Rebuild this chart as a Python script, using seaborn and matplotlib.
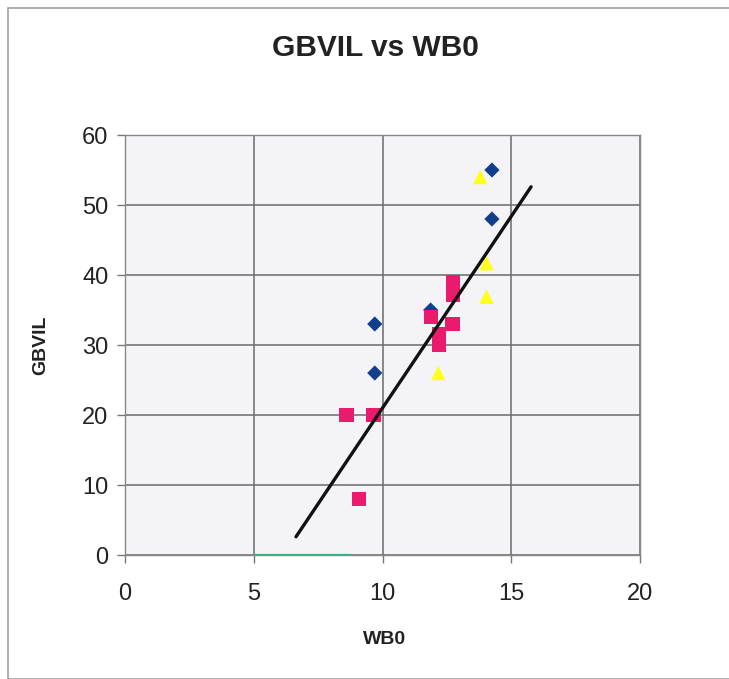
import matplotlib
matplotlib.use("Agg")
import matplotlib.pyplot as plt
import seaborn as sns
import pandas as pd
from matplotlib.patches import Rectangle

# ---- data ----
series_a_x = [14.25, 14.25, 9.7, 9.7, 11.87]
series_a_y = [55.0, 48.0, 33.0, 26.0, 35.0]

series_b_x = [8.6, 9.65, 9.1, 12.75, 12.75, 11.87, 12.72, 12.19, 12.19]
series_b_y = [20.0, 20.0, 8.0, 39.0, 37.2, 34.0, 33.0, 31.5, 30.0]

series_c_x = [13.8, 14.04, 14.04, 12.17]
series_c_y = [54.0, 41.7, 36.9, 26.0]

trend_x = [6.64, 15.77]
trend_y = [2.6, 52.6]

base_x = [5.0, 8.7]
base_y = [0.0, 0.0]

title = "GBVIL vs WB0"
x_label = "WB0"
y_label = "GBVIL"
x_ticks = [0, 5, 10, 15, 20]
y_ticks = [0, 10, 20, 30, 40, 50, 60]

sns.set_theme(style="white")
plt.rcParams['font.family'] = ['Liberation Sans', 'DejaVu Sans']

fig = plt.figure(figsize=(7.29, 6.79), dpi=100)
ax = fig.add_axes([125/729, 1-555/679, (640-125)/729, (555-135)/679])
ax.set_facecolor('#f3f3f8')

df_a = pd.DataFrame({'x': series_a_x, 'y': series_a_y})
df_b = pd.DataFrame({'x': series_b_x, 'y': series_b_y})
df_c = pd.DataFrame({'x': series_c_x, 'y': series_c_y})

sns.lineplot(x=base_x, y=base_y, ax=ax, color='#3fb07a', linewidth=1.6, zorder=3)
sns.scatterplot(data=df_a, x='x', y='y', ax=ax, marker='D', s=60,
                color='#123f8c', edgecolor='none', zorder=4)
sns.scatterplot(data=df_b, x='x', y='y', ax=ax, marker='s', s=105,
                color='#ea1b6c', edgecolor='none', zorder=5)
sns.scatterplot(data=df_c, x='x', y='y', ax=ax, marker='^', s=110,
                color='#ffff1a', edgecolor='none', zorder=4)
sns.lineplot(x=trend_x, y=trend_y, ax=ax, color='#111111', linewidth=2.4,
             zorder=6, solid_capstyle='round')

ax.set_xlim(0, 20)
ax.set_ylim(0, 60)
ax.set_xticks(x_ticks)
ax.set_yticks(y_ticks)
ax.set_xticklabels([str(t) for t in x_ticks])
ax.set_yticklabels([str(t) for t in y_ticks])
ax.grid(True, color='#6a6a6a', linewidth=1.1, zorder=1)
ax.set_axisbelow(True)
for s in ax.spines.values():
    s.set_color('#888888')
    s.set_linewidth(1.0)
ax.tick_params(axis='both', which='both', direction='out', length=6, width=1.0,
               color='#777777', labelsize=17, labelcolor='#222222', pad=6,
               bottom=True, left=True)
ax.tick_params(axis='x', pad=14)
ax.set_xlabel(x_label, fontsize=14, fontweight='bold', color='#222222')
ax.set_ylabel(y_label, fontsize=14, fontweight='bold', color='#222222')
ax.xaxis.set_label_coords((385-125)/(640-125), -(631-555)/(555-135))
ax.yaxis.set_label_coords(-(125-49)/(640-125), 0.5)

fig.text(375/729, 1-48/679, title, ha='center', va='center', fontsize=21.5,
         fontweight='bold', color='#222222')

fig.patches.append(Rectangle((8/729, 0), 1, 1-8/679, transform=fig.transFigure,
                             fill=False, edgecolor='#a0a0a0', linewidth=1.2))

fig.savefig('out.png', dpi=100, facecolor='white')
